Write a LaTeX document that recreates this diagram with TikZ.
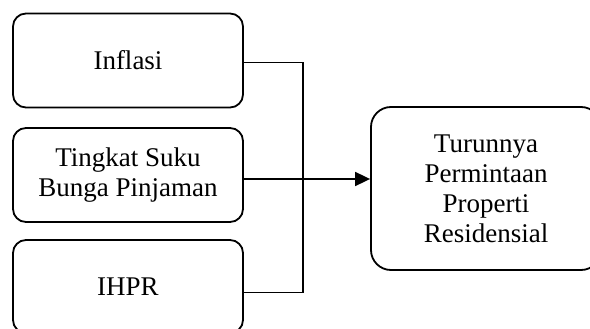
\documentclass[tikz,border=0pt]{standalone}
\usepackage{fontspec}
\setmainfont{Liberation Serif}
\usetikzlibrary{arrows.meta}
\begin{document}
\begin{tikzpicture}[x=1pt,y=-1pt,
  box/.style={draw, line width=1.8pt, rounded corners=13pt, minimum width=230pt,
    minimum height=94pt, align=center, inner sep=0pt,
    font=\fontsize{27}{30}\selectfont},
  conn/.style={line width=1.8pt}]
\useasboundingbox (0,0) rectangle (590,329);
\clip (0,0) rectangle (590,329);
\node[box] (inf) at (128,60.5) {Inflasi};
\node[box] (tsb) at (128,175) {Tingkat Suku\\Bunga Pinjaman};
\node[box, minimum height=93pt] (ihpr) at (128,286.5) {IHPR};
\node[box, rounded corners=20pt, minimum width=230pt, minimum height=163pt] (tpp) at (486,188.5)
  {Turunnya\\Permintaan\\Properti\\Residensial};
\coordinate (j) at (303,0);
\draw[conn] ([yshift=-2pt]inf.east) -- ([yshift=-2pt]inf.east -| j) -- ([yshift=-6pt]ihpr.east -| j) -- ([yshift=-6pt]ihpr.east);
\draw[conn, -{Triangle[length=15pt,width=14pt]}] ([yshift=-4pt]tsb.east) -- ([yshift=-4pt]tsb.east -| tpp.west);
\end{tikzpicture}
\end{document}
